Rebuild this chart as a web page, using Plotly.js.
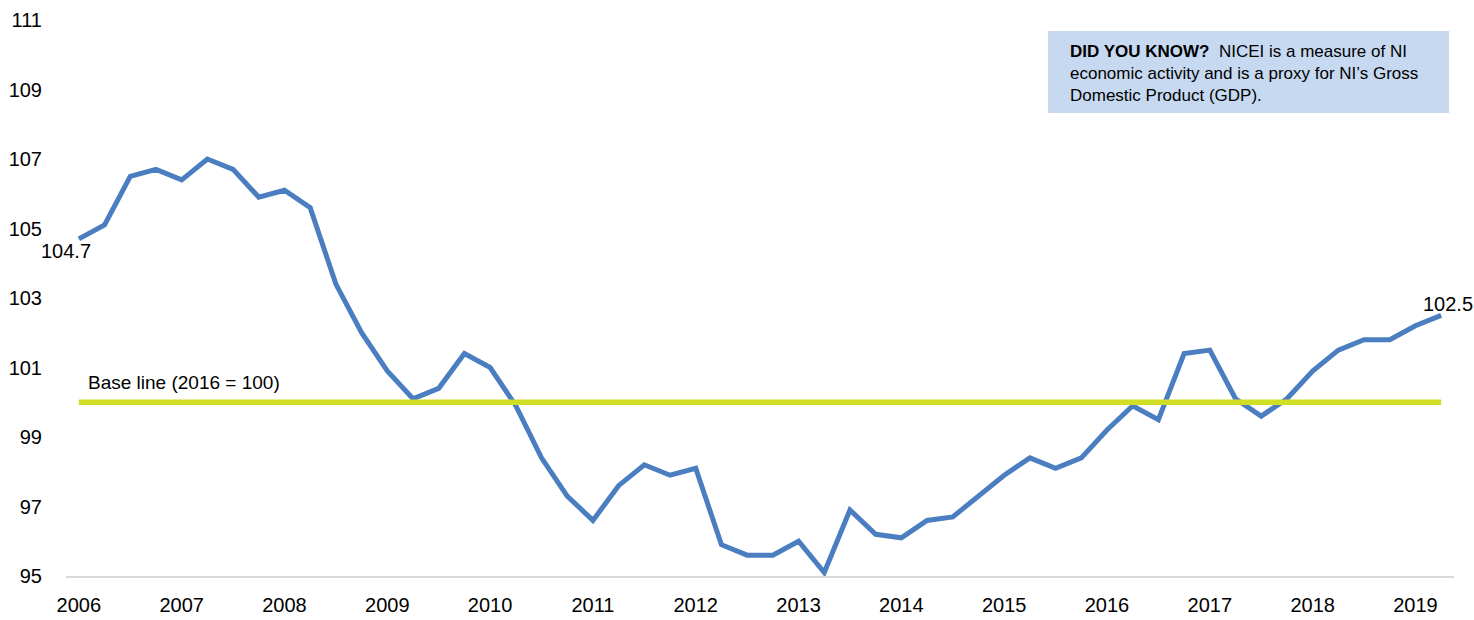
<!DOCTYPE html>
<html>
<head>
<meta charset="utf-8">
<script src="https://cdn.plot.ly/plotly-3.0.1.min.js"></script>
<style>
html,body{margin:0;padding:0;background:#fff;}
#chart{width:1474px;height:620px;}
</style>
</head>
<body>
<div id="chart"></div>
<script>
// ---- data ----
const years = [2006, 2007, 2008, 2009, 2010, 2011, 2012, 2013, 2014, 2015, 2016, 2017, 2018, 2019];
const quarters = ['Q1', 'Q2', 'Q3', 'Q4'];
// NICEI index, quarterly 2006 Q1 - 2019 Q2
const nicei = [
  104.7, 105.1, 106.5, 106.7, 106.4, 107.0, 106.7, 105.9, 106.1, 105.6,
  103.4, 102.0, 100.9, 100.1, 100.4, 101.4, 101.0, 99.9, 98.4, 97.3,
  96.6, 97.6, 98.2, 97.9, 98.1, 95.9, 95.6, 95.6, 96.0, 95.1,
  96.9, 96.2, 96.1, 96.6, 96.7, 97.3, 97.9, 98.4, 98.1, 98.4,
  99.2, 99.9, 99.5, 101.4, 101.5, 100.1, 99.6, 100.1, 100.9, 101.5,
  101.8, 101.8, 102.2, 102.5
];
const baseValue = 100;
const baseLabel = 'Base line (2016 = 100)';
const yTicks = [95, 97, 99, 101, 103, 105, 107, 109, 111];
const boxText = '<b>DID YOU KNOW?</b>\u00a0\u00a0NICEI is a measure of NI<br>economic activity and is a proxy for NI\u2019s Gross<br>Domestic Product (GDP).';

// category labels
const periods = [];
for (const y of years) for (const q of quarters) {
  if (periods.length < nicei.length) periods.push(y + ' ' + q);
}
const tickVals = years.map(y => y + ' Q1');
const tickText = years.map(String);

const FONT = 'Liberation Sans, Arial, sans-serif';

const traces = [
  {
    x: periods, y: nicei, type: 'scatter', mode: 'lines',
    line: {color: '#4A7EC0', width: 5},
    hoverinfo: 'x+y', showlegend: false
  },
  {
    x: [periods[0], periods[periods.length - 1]], y: [baseValue, baseValue],
    type: 'scatter', mode: 'lines',
    line: {color: '#D1DE26', width: 5.5},
    hoverinfo: 'y', showlegend: false
  }
];

const layout = {
  width: 1474, height: 620,
  margin: {l: 66, r: 20, t: 20, b: 44},
  paper_bgcolor: '#fff', plot_bgcolor: '#fff',
  font: {family: FONT, color: '#000', size: 20},
  xaxis: {
    type: 'category', categoryorder: 'array', categoryarray: periods,
    range: [-0.5, periods.length - 0.5],
    tickmode: 'array', tickvals: tickVals, ticktext: tickText,
    ticks: 'outside', ticklen: 10, tickcolor: 'rgba(0,0,0,0)',
    showgrid: false, zeroline: false,
    showline: true, linecolor: '#D9D9D9', linewidth: 2,
    tickfont: {family: FONT, size: 20, color: '#000'}
  },
  yaxis: {
    range: [95, 111], tickmode: 'array', tickvals: yTicks,
    ticks: 'outside', ticklen: 19, tickcolor: 'rgba(0,0,0,0)',
    showgrid: false, zeroline: false, showline: false,
    tickfont: {family: FONT, size: 20, color: '#000'}
  },
  shapes: [
    {type: 'rect', xref: 'paper', yref: 'paper', x0: 0.7075, x1: 0.9964, y0: 0.8327, y1: 0.9802,
     fillcolor: '#C6D9F0', line: {width: 0}, layer: 'below'}
  ],
  annotations: [
    {xref: 'paper', yref: 'paper', x: 0.7219, y: 0.903, xanchor: 'left', yanchor: 'middle',
     text: boxText, showarrow: false, align: 'left',
     font: {family: FONT, size: 17, color: '#000'}},
    {x: periods[0], y: baseValue, xanchor: 'left', yanchor: 'middle', xshift: 7, yshift: 20,
     text: baseLabel, showarrow: false, font: {family: FONT, size: 19, color: '#000'}},
    {x: periods[0], y: nicei[0], xanchor: 'center', yanchor: 'middle', xshift: -13, yshift: -12,
     text: nicei[0].toFixed(1), showarrow: false, font: {family: FONT, size: 20, color: '#000'}},
    {x: periods[periods.length - 1], y: nicei[nicei.length - 1], xanchor: 'center', yanchor: 'middle',
     xshift: 7, yshift: 11,
     text: nicei[nicei.length - 1].toFixed(1), showarrow: false, font: {family: FONT, size: 20, color: '#000'}}
  ]
};

Plotly.newPlot('chart', traces, layout, {displayModeBar: false, staticPlot: true});
</script>
</body>
</html>
